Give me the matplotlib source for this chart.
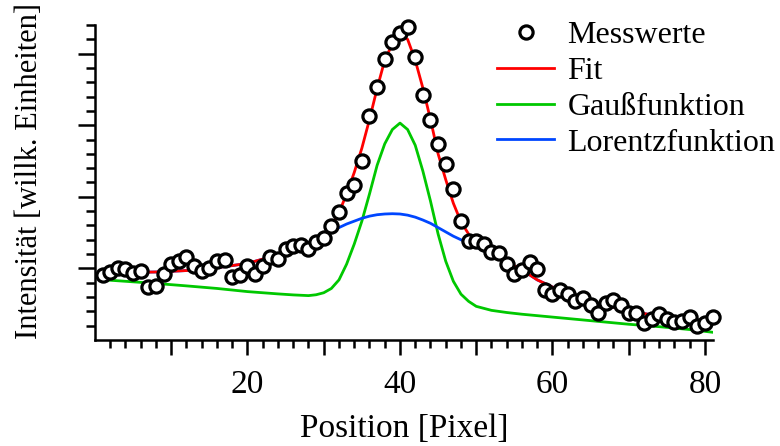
import matplotlib
matplotlib.use("Agg")
import matplotlib.pyplot as plt
from matplotlib.ticker import FixedLocator, FuncFormatter
import numpy as np

plt.rcParams['font.family'] = ['Liberation Serif', 'DejaVu Serif']

# measured points (x = pixel position 1..81)
pos = np.arange(1, 82)
messwerte = [0.456, 0.474, 0.502, 0.498, 0.467, 0.479, 0.373, 0.377, 0.458, 0.533,
             0.551, 0.583, 0.519, 0.479, 0.500, 0.549, 0.556, 0.440, 0.456, 0.514,
             0.458, 0.514, 0.578, 0.567, 0.637, 0.660, 0.665, 0.637, 0.683, 0.710,
             0.797, 0.896, 1.026, 1.085, 1.250, 1.563, 1.766, 1.960, 2.081, 2.146,
             2.185, 1.979, 1.708, 1.535, 1.370, 1.231, 1.058, 0.828, 0.692, 0.694,
             0.672, 0.613, 0.606, 0.528, 0.458, 0.486, 0.544, 0.495, 0.352, 0.324,
             0.347, 0.324, 0.273, 0.292, 0.243, 0.190, 0.255, 0.278, 0.243, 0.190,
             0.190, 0.120, 0.146, 0.185, 0.144, 0.127, 0.134, 0.162, 0.097, 0.116,
             0.162]

curve_x = [1, 4, 8, 12, 16, 20, 24, 26, 28, 29, 30, 31, 32, 33, 34, 35, 36, 37, 38, 39,
           40, 41, 42, 43, 44, 45, 46, 47, 48, 49, 50, 52, 54, 56, 58, 60, 63, 66, 70,
           74, 78, 81]
fit = [0.472, 0.472, 0.475, 0.485, 0.505, 0.535, 0.595, 0.635, 0.675, 0.70, 0.735,
       0.795, 0.89, 1.02, 1.17, 1.34, 1.54, 1.757, 1.954, 2.069, 2.135, 2.10, 1.954,
       1.76, 1.54, 1.30, 1.12, 0.955, 0.825, 0.74, 0.68, 0.605, 0.545, 0.49, 0.42,
       0.37, 0.295, 0.255, 0.205, 0.165, 0.132, 0.108]
gauss = [0.421, 0.41, 0.395, 0.378, 0.36, 0.338, 0.322, 0.315, 0.31, 0.316, 0.33,
         0.36, 0.42, 0.53, 0.67, 0.83, 1.02, 1.22, 1.37, 1.47, 1.515, 1.47, 1.36,
         1.18, 0.97, 0.74, 0.55, 0.41, 0.32, 0.27, 0.235, 0.207, 0.192, 0.18, 0.17,
         0.16, 0.145, 0.13, 0.11, 0.093, 0.073, 0.054]
lorentz = [0.472, 0.472, 0.475, 0.485, 0.505, 0.535, 0.595, 0.635, 0.68, 0.705, 0.73,
           0.757, 0.785, 0.81, 0.83, 0.85, 0.865, 0.875, 0.88, 0.882, 0.88, 0.872,
           0.858, 0.838, 0.815, 0.785, 0.755, 0.725, 0.70, 0.675, 0.65, 0.595, 0.54,
           0.49, 0.42, 0.37, 0.295, 0.255, 0.205, 0.165, 0.132, 0.108]

fig = plt.figure(figsize=(7.8, 4.46), dpi=100)
ax = fig.add_axes([95/780, 1-340/446, (712.6-95)/780, (340-25)/446])

ax.plot(pos, messwerte, 'o', mfc='white', mec='black', ms=9.5, mew=2.3,
        label='Messwerte', zorder=5, clip_on=False)
ax.plot(curve_x, fit, color='#ff0000', lw=2, label='Fit', zorder=3)
ax.plot(curve_x, gauss, color='#00c800', lw=2, label='Gaußfunktion', zorder=2)
ax.plot(curve_x, lorentz, color='#0046ff', lw=2, label='Lorentzfunktion', zorder=2)

ax.set_xlim(0, 81)
ax.set_ylim(0, 2.2)

ax.spines['top'].set_visible(False)
ax.spines['right'].set_visible(False)
for s in ['left', 'bottom']:
    ax.spines[s].set_linewidth(1.8)

ax.xaxis.set_major_locator(FixedLocator([10, 20, 30, 40, 50, 60, 70, 80]))
ax.xaxis.set_minor_locator(FixedLocator([v for v in range(2, 81, 2) if v % 10]))
ax.xaxis.set_major_formatter(FuncFormatter(lambda v, p: '%d' % v if v % 20 == 0 else ''))
ax.yaxis.set_major_locator(FixedLocator([0.5, 1.0, 1.5, 2.0]))
ax.yaxis.set_minor_locator(FixedLocator([i / 10 for i in range(1, 23) if i % 5]))
ax.set_yticklabels([])

ax.tick_params(axis='x', which='major', direction='out', length=11, width=1.8, labelsize=24, pad=10)
ax.tick_params(axis='x', which='minor', direction='out', length=6, width=1.8)
ax.tick_params(axis='y', which='major', direction='out', length=12.5, width=1.8)
ax.tick_params(axis='y', which='minor', direction='out', length=6.5, width=1.8)

ax.set_xlabel('Position [Pixel]', fontsize=24, labelpad=10)
ax.set_ylabel('Intensität [willk. Einheiten]', fontsize=22)
ax.yaxis.set_label_coords(-0.083, 0.535)

ax.legend(loc='upper left', bbox_to_anchor=(497/780, 1-21/446), bbox_transform=fig.transFigure,
          frameon=False, fontsize=23, handlelength=1.8, handletextpad=0.4,
          labelspacing=0.2, borderpad=0, borderaxespad=0)

fig.savefig('out.png', dpi=100)
